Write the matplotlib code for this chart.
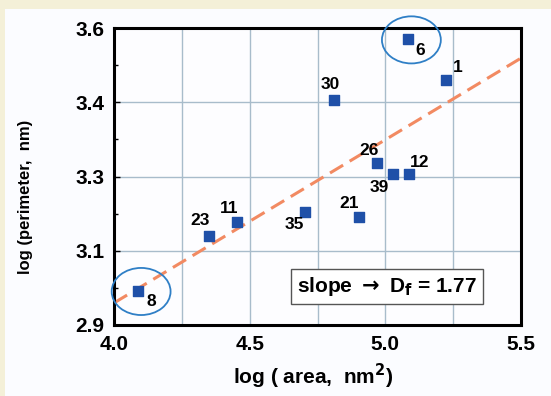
import matplotlib.pyplot as plt
import numpy as np
from matplotlib.patches import Ellipse, Rectangle

# data
labels = ['6', '1', '30', '26', '39', '12', '21', '35', '11', '23', '8']
log_area = [5.084, 5.224, 4.811, 4.969, 5.028, 5.087, 4.903, 4.704, 4.453, 4.350, 4.088]
log_perim = [3.574, 3.478, 3.430, 3.282, 3.256, 3.256, 3.155, 3.167, 3.143, 3.110, 2.981]
fit_x = [4.0, 5.5]
fit_y = [2.952, 3.529]
circled = ['6', '8']

# label offsets in points (dx, dy)
offs = {'6': (8.6, -7.9), '1': (8.6, 8.6), '30': (-3, 11.5), '26': (-5.8, 8.6),
        '39': (-10, -10), '12': (8, 8.6), '21': (-7, 9.4), '35': (-8, -9.4),
        '11': (-5.8, 9.4), '23': (-6.5, 10.8), '8': (10, -8)}

plt.rcParams['font.family'] = ['Liberation Sans', 'DejaVu Sans']
plt.rcParams['font.weight'] = 'bold'

fig = plt.figure(figsize=(5.51, 3.96), dpi=100)
fig.patch.set_facecolor('#f4f0d8')
fig.patches.append(Rectangle((5/551, 0), 1, 1 - 9/396, transform=fig.transFigure,
                             facecolor='#fbfcff', edgecolor='none', zorder=-1))
ax = fig.add_axes([114/551, 1-325/396, 407/551, 297/396])
ax.set_facecolor('#fdfdff')

ax.set_xlim(4.0, 5.5)
ax.set_ylim(2.9, 3.6)
yt = np.linspace(2.9, 3.6, 5)
ax.set_yticks(yt)
ax.set_yticklabels(['%.1f' % round(v + 1e-9, 1) for v in yt])
ax.set_yticks((yt[:-1] + yt[1:]) / 2, minor=True)
ax.set_xticks([4.0, 4.25, 4.5, 4.75, 5.0, 5.25, 5.5])
ax.set_xticklabels(['4.0', '', '4.5', '', '5.0', '', '5.5'])
ax.grid(True, color='#a8bccb', lw=1)
ax.tick_params(direction='in', length=4, width=1, labelsize=15, pad=7)
ax.tick_params(which='minor', direction='in', length=3, width=1)
ax.tick_params(axis='x', length=0, pad=7)
for s in ax.spines.values():
    s.set_linewidth(2.2)

ax.plot(fit_x, fit_y, ls=(0, (5, 2.5)), color='#f28a62', lw=2.2, zorder=2)
ax.scatter(log_area, log_perim, marker='s', s=55, color='#1f50a8', zorder=3)

for lab, x, y in zip(labels, log_area, log_perim):
    ax.annotate(lab, (x, y), xytext=offs[lab], textcoords='offset points',
                ha='center', va='center', fontsize=12.5, fontweight='bold')
    if lab in circled:
        ax.add_patch(Ellipse((x + 0.012, y - 0.002), 0.217, 0.111, fill=False,
                             edgecolor='#2f7fc6', lw=1.3, clip_on=False, zorder=4))

ax.text(5.006, 2.991, r'slope $\rightarrow$ D$_\mathbf{f}$ = 1.77', fontsize=15,
        fontweight='bold', ha='center', va='center',
        bbox=dict(boxstyle='square,pad=0.3', fc='white', ec='#555555', lw=1))

ax.set_xlabel(r'log ( area,  nm$^\mathbf{2}$)', fontsize=15, fontweight='bold')
ax.xaxis.set_label_coords(0.49, -0.125)
ax.set_ylabel('log (perimeter,  nm)', fontsize=12, fontweight='bold')
ax.yaxis.set_label_coords(-0.198, 0.43)

fig.savefig('out.png', dpi=100, facecolor=fig.get_facecolor())
